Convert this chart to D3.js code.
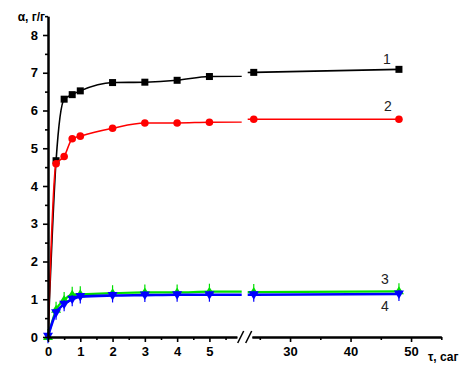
<!DOCTYPE html>
<html>
<head>
<meta charset="utf-8">
<script src="https://cdn.jsdelivr.net/npm/d3@7"></script>
<style>
  body { margin: 0; background: #fff; }
  svg { display: block; font-family: "Liberation Sans", Arial, sans-serif; }
</style>
</head>
<body>
<svg id="chart"></svg>
<script>
// time points, hours
const times = [0, 0.25, 0.5, 0.75, 1, 2, 3, 4, 5, 24, 48];

// sorption, g/g
const series1 = [0, 4.67, 6.30, 6.42, 6.52, 6.74, 6.75, 6.80, 6.90, 7.01, 7.09];
const series2 = [0, 4.59, 4.78, 5.25, 5.32, 5.53, 5.67, 5.67, 5.69, 5.77, 5.77];
const series3 = [0, 0.72, 0.98, 1.12, 1.13, 1.16, 1.18, 1.18, 1.20, 1.19, 1.21];
const series4 = [0.02, 0.64, 0.87, 1.00, 1.07, 1.10, 1.11, 1.12, 1.12, 1.12, 1.14];

const seriesNames = ["1", "2", "3", "4"];
const yTicks = [0, 1, 2, 3, 4, 5, 6, 7, 8];
const xTicksLeft = [0, 1, 2, 3, 4, 5];
const xTicksRight = [30, 40, 50];

const width = 469, height = 374;
const svg = d3.select("#chart").attr("width", width).attr("height", height);

const y = d3.scaleLinear().domain([0, 8]).range([337, 35]);
const xL = d3.scaleLinear().domain([0, 6]).range([48, 241.7]);
const xR = d3.scaleLinear().domain([23, 55]).range([247.7, 441.3]);

const defs = svg.append("defs");
defs.append("clipPath").attr("id", "clipL").append("rect")
    .attr("x", xL(0)).attr("y", 0).attr("width", xL(6) - xL(0)).attr("height", height);
defs.append("clipPath").attr("id", "clipR").append("rect")
    .attr("x", xR(23)).attr("y", 0).attr("width", xR(48.6) - xR(23)).attr("height", height);

const series = [
    {name: seriesNames[0], values: series1, color: "#000000", width: 1.6, mark: "square", originMark: false},
    {name: seriesNames[1], values: series2, color: "#ff0000", width: 1.6, mark: "circle", originMark: false},
    {name: seriesNames[2], values: series3, color: "#00e000", width: 2.2, mark: "up", originMark: true},
    {name: seriesNames[3], values: series4, color: "#0000ff", width: 2.6, mark: "down", originMark: true}
];

const plot = svg.append("g");

series.forEach(s => {
    const pts = times.map((t, i) => ({t: t, v: s.values[i], i: i}));
    [[xL, "clipL"], [xR, "clipR"]].forEach(([xs, clip]) => {
        plot.append("path")
            .datum(pts)
            .attr("clip-path", `url(#${clip})`)
            .attr("fill", "none")
            .attr("stroke", s.color)
            .attr("stroke-width", s.width)
            .attr("d", d3.line().x(d => xs(d.t)).y(d => y(d.v)).curve(d3.curveMonotoneX));
    });

    const marks = pts.filter(d => d.i > 0 || s.originMark);
    marks.forEach(d => {
        const cx = d.t <= 6 ? xL(d.t) : xR(d.t);
        const cy = y(d.v);
        const g = plot.append("g").attr("transform", `translate(${cx},${cy})`);
        if (s.mark === "square") {
            g.append("rect").attr("x", -3.5).attr("y", -3.5).attr("width", 7).attr("height", 7).attr("fill", s.color);
        } else if (s.mark === "circle") {
            g.append("circle").attr("r", 3.8).attr("fill", s.color);
        } else if (s.mark === "up") {
            g.append("path").attr("d", "M0,-5L5,3L-5,3Z").attr("fill", s.color);
            g.append("line").attr("y1", -8).attr("y2", 4).attr("stroke", s.color).attr("stroke-width", 1.2);
        } else {
            g.append("path").attr("d", "M0,5L5,-3.5L-5,-3.5Z").attr("fill", s.color);
            g.append("line").attr("y1", -4).attr("y2", 7).attr("stroke", s.color).attr("stroke-width", 1.2);
        }
    });
});

// curve labels
const labelAt = [[387, 64], [388, 111], [385, 284], [385, 311]];
series.forEach((s, i) => {
    svg.append("text")
        .attr("x", labelAt[i][0]).attr("y", labelAt[i][1])
        .attr("text-anchor", "middle")
        .attr("fill", "#222")
        .style("font-size", "14px")
        .text(s.name);
});

// axes
function styleAxis(g) {
    g.selectAll("path.domain").attr("stroke", "#000").attr("stroke-width", 2);
    g.selectAll(".tick line").attr("stroke", "#000").attr("stroke-width", 1.6);
    g.selectAll("text").attr("fill", "#000").style("font-size", "13px").style("font-weight", "bold")
        .style("font-family", "'Liberation Sans', Arial, sans-serif");
}

const yAxisScale = d3.scaleLinear().domain([0, 8.5]).range([y(0), y(8.5)]);
svg.append("g").attr("transform", "translate(48,0)")
    .call(d3.axisLeft(yAxisScale).tickValues(d3.range(0.5, 8.6, 1)).tickSize(3).tickSizeOuter(0).tickFormat(""))
    .call(styleAxis);
svg.append("g").attr("transform", "translate(48,0)")
    .call(d3.axisLeft(yAxisScale).tickValues(yTicks).tickSize(5).tickPadding(5).tickSizeOuter(0).tickFormat(d3.format("d")))
    .call(styleAxis);

const xAxisL = d3.scaleLinear().domain([0, 5.85]).range([xL(0), xL(5.85)]);
const xAxisR = d3.scaleLinear().domain([23.7, 55]).range([xR(23.7), xR(55)]);
svg.append("g").attr("transform", `translate(0,${y(0)})`)
    .call(d3.axisBottom(xAxisL).tickValues(d3.range(0.5, 5.6, 1)).tickSize(3).tickSizeOuter(0).tickFormat(""))
    .call(styleAxis);
svg.append("g").attr("transform", `translate(0,${y(0)})`)
    .call(d3.axisBottom(xAxisL).tickValues(xTicksLeft).tickSize(5).tickPadding(5).tickSizeOuter(0).tickFormat(d3.format("d")))
    .call(styleAxis);
svg.append("g").attr("transform", `translate(0,${y(0)})`)
    .call(d3.axisBottom(xAxisR).tickValues([25, 35, 45, 55]).tickSize(3).tickSizeOuter(0).tickFormat(""))
    .call(styleAxis);
svg.append("g").attr("transform", `translate(0,${y(0)})`)
    .call(d3.axisBottom(xAxisR).tickValues(xTicksRight).tickSize(5).tickPadding(5).tickSizeOuter(0).tickFormat(d3.format("d")))
    .call(styleAxis);

// axis break marks
const bx = (xL(6) + xR(23)) / 2, by = y(0);
[-4, 4].forEach(dx => {
    svg.append("line")
        .attr("x1", bx + dx - 3).attr("y1", by + 6)
        .attr("x2", bx + dx + 3).attr("y2", by - 6)
        .attr("stroke", "#000").attr("stroke-width", 1.5);
});

// axis titles
svg.append("text").attr("x", 45).attr("y", 21).attr("text-anchor", "end")
    .style("font-size", "12px").style("font-weight", "bold").text("α, г/г");
svg.append("text").attr("x", 428).attr("y", 361)
    .style("font-size", "12px").style("font-weight", "bold").text("τ, саг");
</script>
</body>
</html>
